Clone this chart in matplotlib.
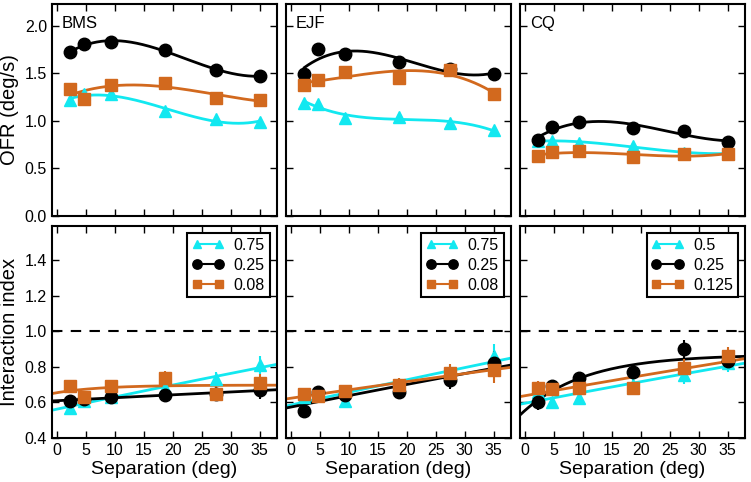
import numpy as np
import matplotlib
matplotlib.use("Agg")
import matplotlib.pyplot as plt

plt.rcParams['font.family'] = ['Liberation Sans', 'DejaVu Sans']

# separation values (deg)
sep = np.array([2.3, 4.7, 9.3, 18.6, 27.4, 35.0])

subjects = ["BMS", "EJF", "CQ"]
legend_labels = [["0.75", "0.25", "0.08"],
                 ["0.75", "0.25", "0.08"],
                 ["0.5", "0.25", "0.125"]]

# OFR (deg/s): high, mid, low contrast
ofr_high = [[1.22, 1.28, 1.28, 1.10, 1.02, 0.99],
            [1.19, 1.18, 1.03, 1.04, 0.98, 0.90],
            [0.79, 0.79, 0.77, 0.74, 0.66, 0.66]]
ofr_mid = [[1.72, 1.81, 1.83, 1.74, 1.54, 1.47],
           [1.49, 1.76, 1.70, 1.62, 1.55, 1.49],
           [0.80, 0.94, 0.99, 0.92, 0.89, 0.78]]
ofr_low = [[1.33, 1.23, 1.38, 1.40, 1.24, 1.22],
           [1.38, 1.43, 1.51, 1.45, 1.54, 1.28],
           [0.63, 0.67, 0.68, 0.62, 0.65, 0.65]]
ofr_err = [[0.02, 0.02, 0.03, 0.02, 0.02, 0.02],
           [0.02, 0.02, 0.04, 0.03, 0.03, 0.02],
           [0.02, 0.02, 0.02, 0.03, 0.02, 0.02]]

# interaction index
ii_high = [[0.57, 0.61, 0.63, 0.68, 0.73, 0.81],
           [0.63, 0.64, 0.61, 0.70, 0.76, 0.86],
           [0.66, 0.60, 0.625, 0.70, 0.755, 0.82]]
ii_mid = [[0.61, 0.62, 0.63, 0.64, 0.65, 0.67],
          [0.555, 0.66, 0.64, 0.66, 0.725, 0.82],
          [0.60, 0.69, 0.735, 0.77, 0.90, 0.83]]
ii_low = [[0.69, 0.63, 0.695, 0.735, 0.65, 0.71],
          [0.65, 0.635, 0.665, 0.70, 0.765, 0.78],
          [0.68, 0.675, 0.68, 0.68, 0.795, 0.86]]
ii_err = [[0.03, 0.02, 0.03, 0.04, 0.04, 0.05],
          [0.02, 0.02, 0.03, 0.04, 0.05, 0.07],
          [0.04, 0.03, 0.03, 0.04, 0.05, 0.05]]

cyan = "#12e8f0"
orange = "#d2691e"
styles = [(cyan, "^", 8), ("black", "o", 9), (orange, "s", 8.5)]


def exp_fit(x, y, xs):
    # saturating exponential a - b*exp(-x/tau), tau picked by grid search
    best = None
    for tau in np.linspace(3, 400, 800):
        A = np.column_stack([np.ones_like(x), np.exp(-x / tau)])
        coef, res, _, _ = np.linalg.lstsq(A, y, rcond=None)
        r = np.sum((A @ coef - y) ** 2)
        if best is None or r < best[0]:
            best = (r, tau, coef)
    _, tau, coef = best
    return coef[0] + coef[1] * np.exp(-xs / tau)


fig, axes = plt.subplots(2, 3, figsize=(7.51, 4.82), dpi=100)
fig.subplots_adjust(left=0.069, right=0.992, top=0.992, bottom=0.091,
                     wspace=0.04, hspace=0.047)

for j in range(3):
    ax = axes[0, j]
    xs = np.linspace(sep[0], sep[-1], 200)
    for (c, m, ms), ys in zip(styles, [ofr_high[j], ofr_mid[j], ofr_low[j]]):
        ys = np.array(ys)
        p = np.polyfit(sep, ys, 3)
        ax.plot(xs, np.polyval(p, xs), color=c, lw=2)
        ax.errorbar(sep, ys, yerr=ofr_err[j], fmt=m, color=c, ms=ms,
                    elinewidth=1.5, capsize=0, mec=c)
    ax.set_ylim(0, 2.23)
    ax.set_yticks([0, 0.5, 1.0, 1.5, 2.0])
    ax.text(0.045, 0.945, subjects[j], transform=ax.transAxes, ha="left",
            va="top", fontsize=12)

    ax = axes[1, j]
    xs = np.linspace(-1, 39, 200)
    handles = []
    for (c, m, ms), ys, lab in zip(styles, [ii_high[j], ii_mid[j], ii_low[j]],
                                   legend_labels[j]):
        ys = np.array(ys)
        ax.plot(xs, exp_fit(sep, ys, xs), color=c, lw=2)
        ax.errorbar(sep, ys, yerr=ii_err[j], fmt=m, color=c, ms=ms,
                    elinewidth=1.5, capsize=0, mec=c)
        h, = ax.plot([], [], color=c, marker=m, ms=ms * 0.75, lw=1.5,
                     label=lab)
        handles.append(h)
    ax.axhline(1.0, color="black", ls=(0, (5, 4)), lw=1.5)
    ax.set_ylim(0.4, 1.59)
    ax.set_yticks([0.4, 0.6, 0.8, 1.0, 1.2, 1.4])
    leg = ax.legend(handles=handles, loc="upper right", numpoints=2,
                    fontsize=11.5, fancybox=False, edgecolor="black",
                    framealpha=1, handlelength=2.0, handletextpad=0.6,
                    borderpad=0.3, labelspacing=0.3, borderaxespad=0.45)
    leg.get_frame().set_linewidth(1.5)
    ax.set_xlabel("Separation (deg)", fontsize=14, labelpad=2)

for ax in axes.flat:
    ax.set_xlim(-0.9, 38)
    ax.set_xticks(np.arange(0, 36, 5))
    ax.tick_params(direction="in", top=True, right=True, labelsize=11.5,
                   length=5, width=1)
    for s in ax.spines.values():
        s.set_linewidth(1.5)

for ax in axes[0]:
    ax.set_xticklabels([])
for ax in axes[:, 1:].flat:
    ax.set_yticklabels([])

axes[0, 0].set_ylabel("OFR (deg/s)", fontsize=14.5, labelpad=4)
axes[1, 0].set_ylabel("Interaction index", fontsize=14.5, labelpad=4)

fig.savefig("out.png", dpi=100)
